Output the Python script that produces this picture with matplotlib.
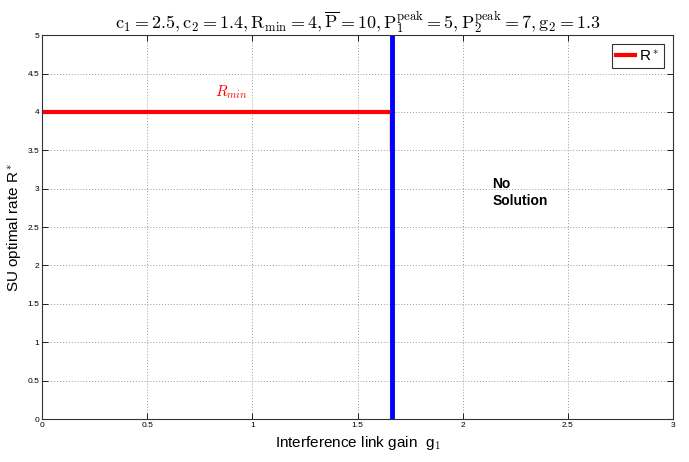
import matplotlib
matplotlib.use("Agg")
import matplotlib.pyplot as plt

# Data
g1_rate = [0.0, 1.655]
rate = [4.0, 4.0]
g1_drop = [1.652, 1.652]
rate_drop = [4.0, 3.5]
g1_bound = [1.665, 1.665]
rate_bound = [0.0, 5.0]
xticks = [0, 0.5, 1, 1.5, 2, 2.5, 3]
yticks = [0, 0.5, 1, 1.5, 2, 2.5, 3, 3.5, 4, 4.5, 5]
xtick_labels = ["0", "0.5", "1", "1.5", "2", "2.5", "3"]
ytick_labels = ["0", "0.5", "1", "1.5", "2", "2.5", "3", "3.5", "4", "4.5", "5"]

plt.rcParams['font.family'] = ['Liberation Sans', 'DejaVu Sans']
plt.rcParams['mathtext.fontset'] = 'cm'

fig = plt.figure(figsize=(6.89, 4.62), dpi=100)
ax = fig.add_axes([0.061, 0.093, 0.916, 0.831])

line_r, = ax.plot(g1_rate, rate, color='red', lw=3, label=r'R$^*$')
ax.plot(g1_drop, rate_drop, color='red', lw=1)
ax.plot(g1_bound, rate_bound, color='blue', lw=3.5)

ax.set_xlim(0, 3)
ax.set_ylim(0, 5)
ax.set_xticks(xticks)
ax.set_xticklabels(xtick_labels)
ax.set_yticks(yticks)
ax.set_yticklabels(ytick_labels)
ax.tick_params(axis='both', labelsize=6, direction='in', length=4, width=0.6, top=True, right=True, pad=2)
ax.grid(True, linestyle=(0, (1, 2)), color='#999999', linewidth=0.7)
for s in ax.spines.values():
    s.set_linewidth(0.8)
    s.set_color('#333333')

ax.text(0.9, 4.2, r'$R_{min}$', color='red', fontsize=11, ha='center')
ax.text(2.14, 2.95, 'No\nSolution', fontsize=10, fontweight='bold', ha='left', va='center', linespacing=1.2)

ax.set_xlabel(r'Interference link gain  g$_1$', fontsize=11, labelpad=4)
ax.set_ylabel(r'SU optimal rate R$^*$', fontsize=11, labelpad=3)
ax.set_title(r'$\mathrm{c_1 = 2.5, c_2 = 1.4, R_{min} = 4, \overline{P} = 10, P_1^{peak} = 5, P_2^{peak} = 7, g_2 = 1.3}$',
             fontsize=13, pad=5)

leg = ax.legend(handles=[line_r], loc='upper right', fontsize=11, handlelength=1.2,
                handletextpad=0.3, borderpad=0.3, fancybox=False, framealpha=1,
                edgecolor='#333333', borderaxespad=0.6)
leg.get_frame().set_linewidth(0.8)

fig.savefig('out.png', dpi=100)
